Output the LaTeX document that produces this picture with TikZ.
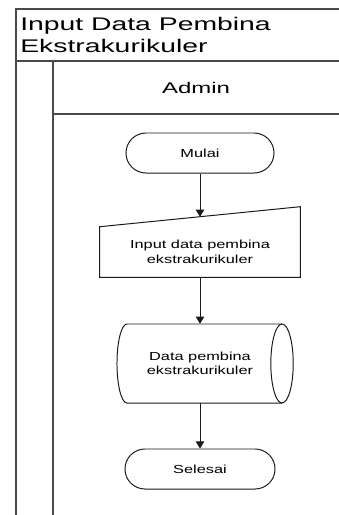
\documentclass[tikz,border=0pt]{standalone}
\usepackage{fontspec}
\setmainfont{Liberation Sans}
\newfontfamily\lanefont{Liberation Sans}[FakeStretch=1.55]
\newfontfamily\flowfont{Liberation Sans}[FakeStretch=1.4]
\usetikzlibrary{arrows.meta, positioning, calc}
\definecolor{lanegray}{HTML}{4A4A4A}
\definecolor{flowline}{HTML}{1A1A1A}

\tikzset{
  lane/.style={lanegray, line width=1.5pt},
  flowshape/.style={draw=flowline, line width=0.7pt},
  flowtext/.style={align=center, font=\flowfont\fontsize{8.3}{10.3}\selectfont},
  terminal/.style={flowshape, flowtext, rounded corners=0.5cm, minimum width=3.7cm, minimum height=1cm},
  flowarrow/.style={flowline, line width=0.7pt, -{Triangle[width=6pt,length=5pt]}},
}

\begin{document}
\begin{tikzpicture}[x=0.025cm, y=-0.025cm]
        \useasboundingbox (0,0) rectangle (339,515);
        % swimlane
        \draw[lane] (16,515) -- (16,9) -- (339,9);
        \draw[lane] (16,61) -- (339,61);
        \draw[lane] (53,515) -- (53,61);
        \draw[lane] (53,114) -- (339,114);
        \node[anchor=north west, inner sep=0, align=left, font=\lanefont\fontsize{13}{15.6}\selectfont] (title) at (20,17) {Input Data Pembina\\Ekstrakurikuler};
        \node[font=\lanefont\fontsize{11}{13}\selectfont] (admin) at (196,88) {Admin};
        % flow
        \node[terminal] (mulai) at (200,153) {Mulai};
        \node[flowtext, minimum width=5cm, minimum height=1.25cm] (inp) at (200,252) {Input data pembina\\ekstrakurikuler};
        \node[flowtext, minimum height=1.975cm] (dat) at (200,363.5) {Data pembina\\ekstrakurikuler};
        \node[terminal, minimum width=3.75cm] (selesai) at (200,469) {Selesai};
        \draw[flowshape] (inp.south west) -- (inp.north west) -- ([yshift=0.5cm]inp.north east) -- (inp.south east) -- cycle;
        \draw[flowshape] ($(dat.center)+(-1.825cm,0.9875cm)$) -- ++(3.875cm,0)
          arc[start angle=90, end angle=-90, x radius=0.28cm, y radius=0.9875cm]
          -- ++(-3.875cm,0)
          arc[start angle=270, end angle=90, x radius=0.25cm, y radius=0.9875cm] -- cycle;
        \draw[flowshape] ($(dat.center)+(2.05cm,0.9875cm)$)
          arc[start angle=90, end angle=270, x radius=0.28cm, y radius=0.9875cm];
        \draw[flowarrow] (mulai.south) -- ([yshift=0.25cm]inp.north);
        \draw[flowarrow] (inp.south) -- (dat.north);
        \draw[flowarrow] (dat.south) -- (selesai.north);
      \end{tikzpicture}
\end{document}
